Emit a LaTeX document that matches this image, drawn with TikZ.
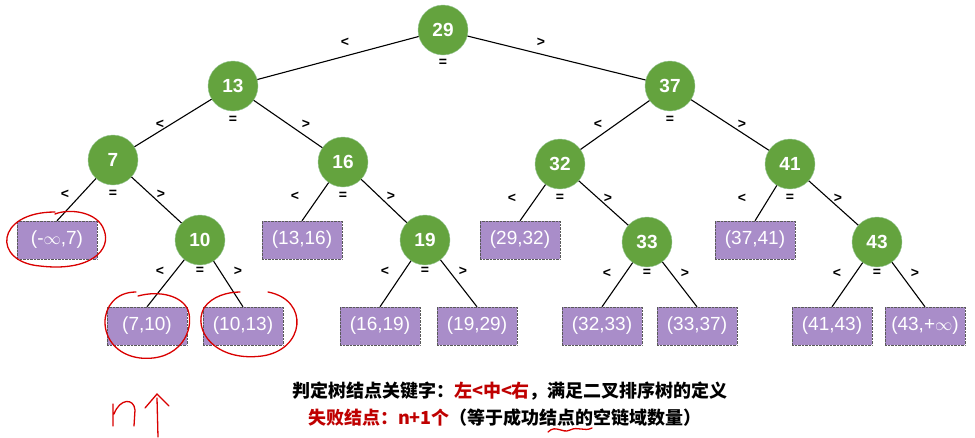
\documentclass[tikz,border=0pt]{standalone}
\usepackage{fontspec}
\setmainfont{Liberation Sans}
\newfontfamily\cjk{Noto Sans CJK SC}
\begin{document}
\begin{tikzpicture}[x=1pt,y=-1pt,
  inner/.style={circle,draw=green!45!black!40,minimum size=50pt,inner sep=0pt,text=white,font=\bfseries\fontsize{19}{19}\selectfont},
  leaf/.style={rectangle,draw=gray!70!black,densely dotted,minimum width=80pt,minimum height=38pt,text=white,font=\fontsize{19}{19}\selectfont},
  edge/.style={line width=1.1pt,black},
  lab/.style={font=\bfseries\fontsize{14}{14}\selectfont},
  hand/.style={red!85!black,line width=1.3pt,line cap=round}]
\useasboundingbox (0,0) rectangle (975,437);
\definecolor{gfill}{HTML}{64A33E}
\definecolor{pfill}{HTML}{A98DC9}
\tikzset{inner/.append style={fill=gfill},leaf/.append style={fill=pfill}}
% inner nodes
\node[inner] (n29) at (443,30) {29};
\node[inner] (n13) at (233,86) {13};
\node[inner] (n37) at (670,86) {37};
\node[inner] (n7) at (113,160) {7};
\node[inner] (n16) at (343,162) {16};
\node[inner] (n32) at (560,164) {32};
\node[inner] (n41) at (790,164) {41};
\node[inner] (n10) at (200,240) {10};
\node[inner] (n19) at (425,240) {19};
\node[inner] (n33) at (647,242) {33};
\node[inner] (n43) at (877,242) {43};
% leaves
\node[leaf] (l1) at (57,240) {(-$\infty$,7)};
\node[leaf] (l2) at (302,240) {(13,16)};
\node[leaf] (l3) at (520,240) {(29,32)};
\node[leaf] (l4) at (755,240) {(37,41)};
\node[leaf] (l5) at (147,326) {(7,10)};
\node[leaf] (l6) at (243,326) {(10,13)};
\node[leaf] (l7) at (380,326) {(16,19)};
\node[leaf] (l8) at (477,326) {(19,29)};
\node[leaf] (l9) at (602,326) {(32,33)};
\node[leaf] (l10) at (697,326) {(33,37)};
\node[leaf] (l11) at (832,326) {(41,43)};
\node[leaf] (l12) at (925,326) {(43,+$\infty$)};
% edges
\foreach \a/\b in {n29/n13,n29/n37,n13/n7,n13/n16,n37/n32,n37/n41,n7/n10,n16/n19,n32/n33,n41/n43}
  \draw[edge] (\a) -- (\b);
\foreach \a/\b in {n7/l1,n16/l2,n32/l3,n41/l4,n10/l5,n10/l6,n19/l7,n19/l8,n33/l9,n33/l10,n43/l11,n43/l12}
  \draw[edge] (\a) -- (\b.north);
% labels
\foreach \n/\dx/\dy/\ex in {n29/98/12/33,n13/73/38/34,n37/72/38/34}{
  \node[lab] at ([shift={(-\dx,\dy)}]\n.center) {<};
  \node[lab] at ([shift={(\dx,\dy)}]\n.center) {>};
  \node[lab] at ([shift={(0,\ex)}]\n.center) {=};}
\foreach \n in {n7,n16,n32,n41}{
  \node[lab] at ([shift={(-48,34)}]\n.center) {<};
  \node[lab] at ([shift={(48,34)}]\n.center) {>};
  \node[lab] at ([shift={(0,34)}]\n.center) {=};}
\foreach \n in {n10,n19,n33,n43}{
  \node[lab] at ([shift={(-40,31)}]\n.center) {<};
  \node[lab] at ([shift={(38,31)}]\n.center) {>};
  \node[lab] at ([shift={(0,31)}]\n.center) {=};}
% text
\node[font=\cjk\bfseries\fontsize{18}{18}\selectfont] (t1) at (510,391) {判定树结点关键字：\textcolor{red!75!black}{左<中<右}，满足二叉排序树的定义};
\node[font=\cjk\bfseries\fontsize{18}{18}\selectfont] (t2) at (505,418) {\textcolor{red!75!black}{失败结点：n+1个}（等于成功结点的空链域数量）};
% hand annotations
\draw[hand] (55,212) .. controls (-5,212) and (-8,262) .. (40,266) .. controls (90,272) and (112,250) .. (104,230) .. controls (98,212) and (70,208) .. (55,214);
\draw[hand] (136,292) .. controls (95,292) and (93,352) .. (140,358) .. controls (180,362) and (195,330) .. (188,310) .. controls (182,296) and (160,290) .. (138,296);
\draw[hand] (268,292) .. controls (310,300) and (305,350) .. (262,356) .. controls (215,362) and (192,330) .. (204,308) .. controls (212,296) and (228,292) .. (240,292);
\draw[hand] (113,404) -- (113,426) (114,414) .. controls (120,398) and (134,398) .. (135,410) -- (134,426);
\draw[hand] (158,437) -- (157,398) (145,408) -- (157,394) -- (169,406);
\draw[hand] (548,432) .. controls (556,424) and (562,434) .. (570,430) .. controls (578,426) and (584,432) .. (592,428);
\end{tikzpicture}
\end{document}
